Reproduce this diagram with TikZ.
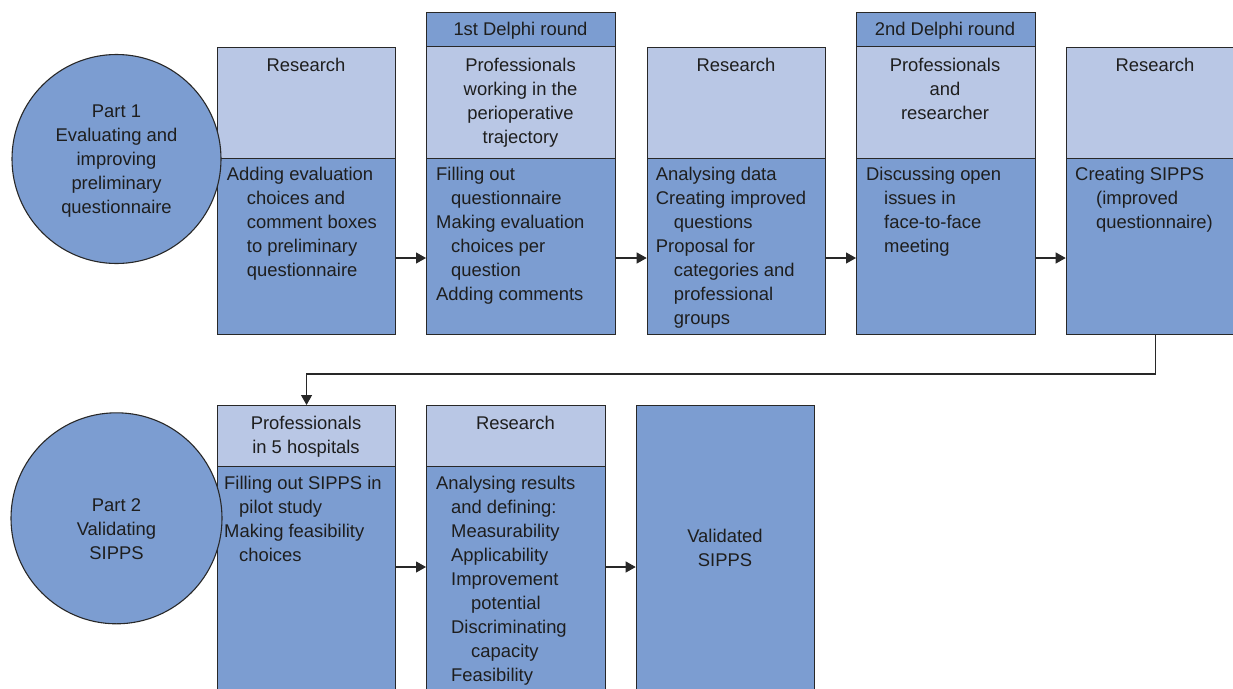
\documentclass[tikz,border=0pt]{standalone}
\usepackage{fontspec}
\setmainfont{Liberation Sans}
\usetikzlibrary{arrows.meta}
\definecolor{dk}{RGB}{124,157,209}
\definecolor{lt}{RGB}{185,199,229}
\definecolor{ln}{RGB}{40,40,40}
\definecolor{txtc}{RGB}{30,30,30}
\begin{document}
\begin{tikzpicture}[x=1pt,y=-1pt,
  box/.style={draw=ln, line width=1.1pt, rectangle, inner sep=0pt, anchor=north west},
  dkbox/.style={box, fill=dk},
  ltbox/.style={box, fill=lt},
  circ/.style={circle, draw=ln, line width=1.1pt, fill=dk, inner sep=0pt},
  txt/.style={inner sep=0pt, font=\fontsize{18.4}{24}\selectfont, text=txtc},
  arr/.style={draw=ln, line width=1.1pt, -{Triangle[length=10pt,width=11pt]}}]
\useasboundingbox (0,0) rectangle (1233,688);
% ---- top row boxes
\node[ltbox, minimum width=178pt, minimum height=111pt] (h1) at (217,46.7) {};
\node[dkbox, minimum width=178pt, minimum height=176.3pt] (b1) at (217,157.7) {};
\node[dkbox, minimum width=189pt, minimum height=34pt] (l2) at (426,12.3) {};
\node[ltbox, minimum width=189pt, minimum height=111.4pt] (h2) at (426,46.3) {};
\node[dkbox, minimum width=189pt, minimum height=176.3pt] (b2) at (426,157.7) {};
\node[ltbox, minimum width=178.3pt, minimum height=111pt] (h3) at (646.7,46.7) {};
\node[dkbox, minimum width=178.3pt, minimum height=176.3pt] (b3) at (646.7,157.7) {};
\node[dkbox, minimum width=178.7pt, minimum height=34pt] (l4) at (856,12.3) {};
\node[ltbox, minimum width=178.7pt, minimum height=111.4pt] (h4) at (856,46.3) {};
\node[dkbox, minimum width=178.7pt, minimum height=176.3pt] (b4) at (856,157.7) {};
\node[ltbox, minimum width=178.6pt, minimum height=111pt] (h5) at (1065.7,46.7) {};
\node[dkbox, minimum width=178.6pt, minimum height=176.3pt] (b5) at (1065.7,157.7) {};
% ---- bottom row boxes
\node[ltbox, minimum width=178pt, minimum height=61pt] (h6) at (217,405) {};
\node[dkbox, minimum width=178pt, minimum height=240pt] (b6) at (217,466) {};
\node[ltbox, minimum width=178.7pt, minimum height=61pt] (h7) at (426,405) {};
\node[dkbox, minimum width=178.7pt, minimum height=240pt] (b7) at (426,466) {};
\node[dkbox, minimum width=178.6pt, minimum height=300pt] (b8) at (635.7,405) {};
% ---- circles
\node[circ, minimum size=209pt] (c1) at (116.5,159) {};
\node[circ, minimum size=211pt] (c2) at (116.5,518.3) {};
% ---- connectors
\coordinate (r1) at (0,258);
\coordinate (r2) at (0,567);
\coordinate (turn) at (0,374);
\draw[arr] (b1.east |- r1) -- (b2.west |- r1);
\draw[arr] (b2.east |- r1) -- (b3.west |- r1);
\draw[arr] (b3.east |- r1) -- (b4.west |- r1);
\draw[arr] (b4.east |- r1) -- (b5.west |- r1);
\draw[arr] (b5.south) -- (b5.south |- turn) -| (h6.north);
\draw[arr] (b6.east |- r2) -- (b7.west |- r2);
\draw[arr] (b7.east |- r2) -- (b8.west |- r2);
% ---- texts
\foreach \t [count=\i from 0] in {Part 1,Evaluating and,improving,preliminary,questionnaire}
  \node[txt, anchor=base] (c1t\i) at (116.5,117+24*\i) {\t};
\node[txt, anchor=base] (h1t) at (306,71) {Research};
\foreach \dx/\t [count=\i from 0] in {0/Adding evaluation,20/choices and,20/comment boxes,20/to preliminary,20/questionnaire}
  \node[txt, anchor=base west] (b1t\i) at (226.7+\dx,180+24*\i) {\t};
\node[txt, anchor=base] (l2t) at (520.5,35) {1st Delphi round};
\foreach \t [count=\i from 0] in {Professionals,working in the,perioperative,trajectory}
  \node[txt, anchor=base] (h2t\i) at (520.5,71+24*\i) {\t};
\foreach \dx/\t [count=\i from 0] in {0/Filling out,15/questionnaire,0/Making evaluation,15/choices per,15/question,0/Adding comments}
  \node[txt, anchor=base west] (b2t\i) at (436+\dx,180+24*\i) {\t};
\node[txt, anchor=base] (h3t) at (736,71) {Research};
\foreach \dx/\t [count=\i from 0] in {0/Analysing data,0/Creating improved,18/questions,0/Proposal for,18/categories and,18/professional,18/groups}
  \node[txt, anchor=base west] (b3t\i) at (655.7+\dx,180+24*\i) {\t};
\node[txt, anchor=base] (l4t) at (945,35) {2nd Delphi round};
\foreach \t [count=\i from 0] in {Professionals,and,researcher}
  \node[txt, anchor=base] (h4t\i) at (945,71+24*\i) {\t};
\foreach \dx/\t [count=\i from 0] in {0/Discussing open,18/issues in,18/face-to-face,18/meeting}
  \node[txt, anchor=base west] (b4t\i) at (866+\dx,180+24*\i) {\t};
\node[txt, anchor=base] (h5t) at (1155,71) {Research};
\foreach \dx/\t [count=\i from 0] in {0/Creating SIPPS,21/{(improved},21/{questionnaire)}}
  \node[txt, anchor=base west] (b5t\i) at (1075+\dx,180+24*\i) {\t};
\foreach \t [count=\i from 0] in {Part 2,Validating,SIPPS}
  \node[txt, anchor=base] (c2t\i) at (116.5,511+24*\i) {\t};
\foreach \t [count=\i from 0] in {Professionals,in 5 hospitals}
  \node[txt, anchor=base] (h6t\i) at (306,429+24*\i) {\t};
\foreach \dx/\t [count=\i from 0] in {0/Filling out SIPPS in,15/pilot study,0/Making feasibility,15/choices}
  \node[txt, anchor=base west] (b6t\i) at (224+\dx,489+24*\i) {\t};
\node[txt, anchor=base] (h7t) at (515.4,429) {Research};
\foreach \dx/\t [count=\i from 0] in {0/Analysing results,15/and defining:,15/Measurability,15/Applicability,15/Improvement,35/potential,15/Discriminating,35/capacity,15/Feasibility}
  \node[txt, anchor=base west] (b7t\i) at (436+\dx,489+24*\i) {\t};
\foreach \t [count=\i from 0] in {Validated,SIPPS}
  \node[txt, anchor=base] (b8t\i) at (725,542+24*\i) {\t};
\end{tikzpicture}
\end{document}
